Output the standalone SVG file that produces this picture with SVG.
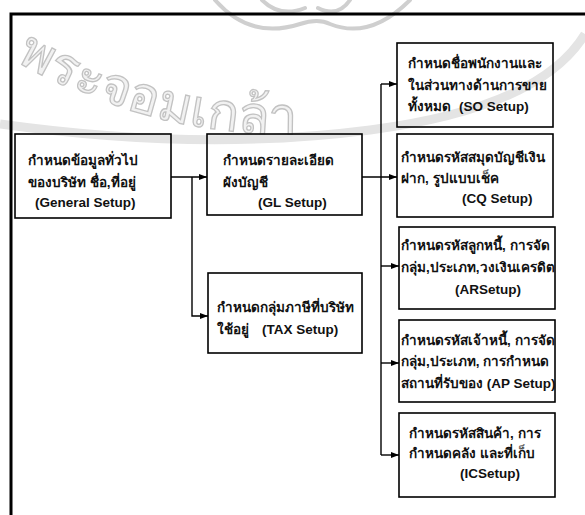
<svg xmlns="http://www.w3.org/2000/svg" width="585" height="515" viewBox="0 0 585 515">
  <defs>
    <marker id="arrow" viewBox="0 0 8 6" refX="8" refY="3" markerWidth="8" markerHeight="6" markerUnits="userSpaceOnUse" orient="auto">
      <path d="M0,0 L8,3 L0,6 Z" fill="#000"/>
    </marker>
    <path id="sealArc" d="M 10,58 A 551 551 0 0 0 585,48"/>
  </defs>
  <style>
    .box { fill: none; stroke: #000; stroke-width: 1.6; }
    .lbl { font-family: "Liberation Sans", "Noto Sans", sans-serif; font-size: 13.5px; font-weight: bold; fill: #111; }
    .link { fill: none; stroke: #000; stroke-width: 1.4; }
    .frame { fill: none; stroke: #000; stroke-width: 3; }
    .seal { font-family: "Noto Sans", "DejaVu Sans", sans-serif; font-size: 52px; fill: #f1f1f1; stroke: #c2c2c2; stroke-width: 1.3; }
    .ring { fill: none; stroke: #e4e4e4; stroke-width: 9; }
    .orn { fill: none; stroke: #cfcfcf; stroke-width: 4; stroke-linecap: round; }
  </style>

  <rect width="585" height="515" fill="#fff"/>

  <!-- background seal -->
  <g id="seal">
    <path class="ring" d="M 0,124 Q 200,152 370,130 T 585,34"/>
    <path class="orn" d="M 215,0 Q 250,40 300,24 Q 318,18 330,24 Q 370,40 410,0"/>
    <path class="orn" d="M 262,0 Q 280,18 305,8 M 350,0 Q 338,18 318,8"/>
    <text class="seal"><textPath href="#sealArc" startOffset="1%">พระจอมเกล้า</textPath></text>
  </g>

  <!-- page frame -->
  <path class="frame" d="M 11,515 L 11,14 L 585,14"/>

  <!-- connectors -->
  <g id="connectors">
    <path class="link" d="M171,177 H207" marker-end="url(#arrow)"/>
    <path class="link" d="M192,177 V316 H208" marker-end="url(#arrow)"/>
    <path class="link" d="M362,177 H397" marker-end="url(#arrow)"/>
    <path class="link" d="M381,84 V455"/>
    <path class="link" d="M381,84 H397" marker-end="url(#arrow)"/>
    <path class="link" d="M381,266 H399" marker-end="url(#arrow)"/>
    <path class="link" d="M381,363 H399" marker-end="url(#arrow)"/>
    <path class="link" d="M381,455 H399" marker-end="url(#arrow)"/>
  </g>

  <g id="general">
    <rect class="box" x="15" y="134" width="156" height="84"/>
    <text class="lbl" x="28" y="165">กำหนดข้อมูลทั่วไป</text>
    <text class="lbl" x="28" y="187">ของบริษัท ชื่อ,ที่อยู่</text>
    <text class="lbl" x="35" y="207">(General Setup)</text>
  </g>

  <g id="gl">
    <rect class="box" x="207" y="134" width="155" height="81"/>
    <text class="lbl" x="223" y="165">กำหนดรายละเอียด</text>
    <text class="lbl" x="223" y="187">ผังบัญชี</text>
    <text class="lbl" x="258" y="207">(GL Setup)</text>
  </g>

  <g id="tax">
    <rect class="box" x="208" y="273" width="154" height="80"/>
    <text class="lbl" x="217" y="312">กำหนดกลุ่มภาษีที่บริษัท</text>
    <text class="lbl" x="217" y="334">ใช้อยู่<tspan x="262">(TAX Setup)</tspan></text>
  </g>

  <g id="so">
    <rect class="box" x="397" y="43" width="156" height="84"/>
    <text class="lbl" x="408" y="68">กำหนดชื่อพนักงานและ</text>
    <text class="lbl" x="408" y="90">ในส่วนทางด้านการขาย</text>
    <text class="lbl" x="408" y="111">ทั้งหมด<tspan x="459">(SO Setup)</tspan></text>
  </g>

  <g id="cq">
    <rect class="box" x="397" y="134" width="156" height="83"/>
    <text class="lbl" x="401" y="162">กำหนดรหัสสมุดบัญชีเงิน</text>
    <text class="lbl" x="401" y="183">ฝาก, รูปแบบเช็ค</text>
    <text class="lbl" x="462" y="203">(CQ Setup)</text>
  </g>

  <g id="ar">
    <rect class="box" x="399" y="227" width="156" height="82"/>
    <text class="lbl" x="401" y="250">กำหนดรหัสลูกหนี้, การจัด</text>
    <text class="lbl" x="401" y="272">กลุ่ม,ประเภท,วงเงินเครดิต</text>
    <text class="lbl" x="455" y="294">(ARSetup)</text>
  </g>

  <g id="ap">
    <rect class="box" x="399" y="320" width="156" height="82"/>
    <text class="lbl" x="401" y="345">กำหนดรหัสเจ้าหนี้, การจัด</text>
    <text class="lbl" x="401" y="366">กลุ่ม,ประเภท, การกำหนด</text>
    <text class="lbl" x="401" y="388">สถานที่รับของ (AP Setup)</text>
  </g>

  <g id="ic">
    <rect class="box" x="399" y="413" width="156" height="84"/>
    <text class="lbl" x="409" y="438">กำหนดรหัสสินค้า, การ</text>
    <text class="lbl" x="409" y="458">กำหนดคลัง และที่เก็บ</text>
    <text class="lbl" x="460" y="478">(ICSetup)</text>
  </g>
</svg>
